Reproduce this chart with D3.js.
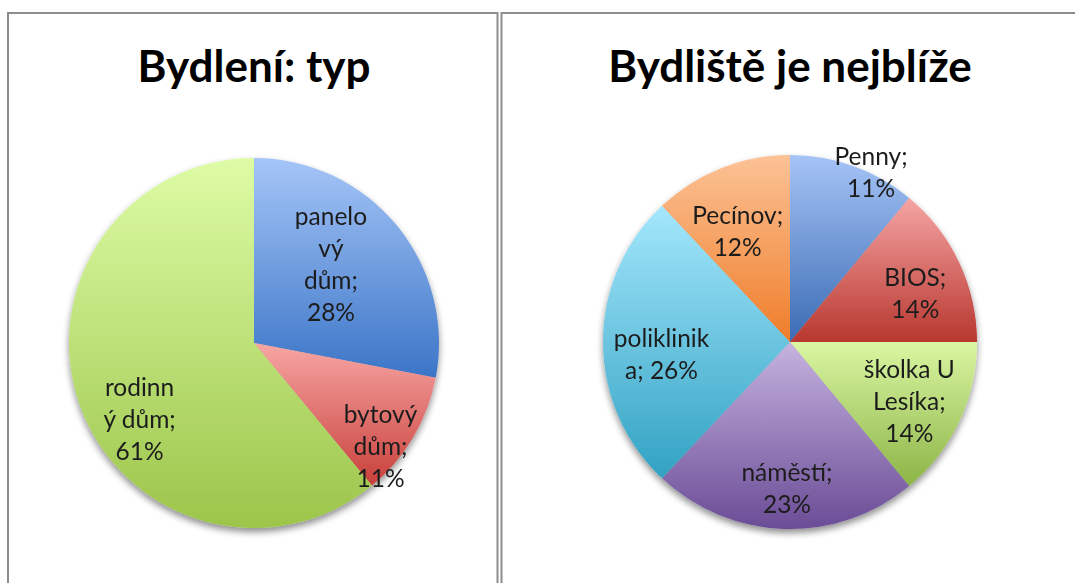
<!DOCTYPE html>
<html>
<head>
<meta charset="utf-8">
<script src="https://cdn.jsdelivr.net/npm/d3@7"></script>
<style>
  html, body { margin: 0; padding: 0; background: #fff; }
  svg { display: block; }
</style>
</head>
<body>
<svg id="chart" width="1075" height="583"></svg>
<script>
// ---- Data ----
const titleLeft = "Bydlení: typ";
const categoriesLeft = ["panelový dům", "bytový dům", "rodinný dům"];
const valuesLeft = [28, 11, 61];
const labelLinesLeft = [["panelo", "vý", "dům;", "28%"], ["bytový", "dům;", "11%"], ["rodinn", "ý dům;", "61%"]];

const titleRight = "Bydliště je nejblíže";
const categoriesRight = ["Penny", "BIOS", "školka U Lesíka", "náměstí", "poliklinika", "Pecínov"];
const valuesRight = [11, 14, 14, 23, 26, 12];
const labelLinesRight = [["Penny;", "11%"], ["BIOS;", "14%"], ["školka U", "Lesíka;", "14%"], ["náměstí;", "23%"], ["poliklinik", "a; 26%"], ["Pecínov;", "12%"]];

// ---- Styles ----
const gradLeft = [["#a5c5f7", "#3b75c7"], ["#f7a6a4", "#c9403b"], ["#defca6", "#9cc54a"]];
const gradRight = [["#a6c4f6", "#3a6bb4"], ["#f5a5a4", "#b8372f"], ["#daf6a2", "#8cb446"], ["#c6b3df", "#6a4c96"], ["#a4e7fc", "#32a2c3"], ["#fcc296", "#ef7d29"]];
// label placement: radius factor and angular nudge (deg)
const labelPlaceLeft = [[0.60, -6.5], [0.88, 8.4], [0.74, -13.5]];
const labelPlaceRight = [[1.01, 5.6], [0.72, 3.7], [0.71, 0.8], [0.78, -0.6], [0.69, -5.1], [0.66, -3.5]];

const svg = d3.select("#chart");
const defs = svg.append("defs");

const shadow = defs.append("filter").attr("id", "shadow")
  .attr("x", "-20%").attr("y", "-20%").attr("width", "140%").attr("height", "140%");
shadow.append("feGaussianBlur").attr("in", "SourceAlpha").attr("stdDeviation", 3.5).attr("result", "b");
shadow.append("feOffset").attr("in", "b").attr("dx", 0).attr("dy", 4).attr("result", "o");
shadow.append("feComponentTransfer").attr("in", "o").attr("result", "s")
  .append("feFuncA").attr("type", "linear").attr("slope", 0.45);
const merge = shadow.append("feMerge");
merge.append("feMergeNode").attr("in", "s");
merge.append("feMergeNode").attr("in", "SourceGraphic");

const textBlur = defs.append("filter").attr("id", "tblur");
textBlur.append("feGaussianBlur").attr("stdDeviation", 0.35);

// Panel borders
const border = "#8d8d8d";
const borders = svg.append("g").attr("fill", "none").attr("stroke", border).attr("stroke-width", 2);
borders.append("path").attr("d", "M8,590 L8,13 L497.5,13 L497.5,590");
borders.append("path").attr("d", "M501.5,590 L501.5,13 L1080,13");

function drawPie(cx, cy, r, title, cats, vals, lines, grads, place, id) {
  const g = svg.append("g").attr("transform", `translate(${cx},${cy})`);
  const pie = d3.pie().sort(null).value(d => d)(vals);
  const arc = d3.arc().innerRadius(0).outerRadius(r);

  grads.forEach((c, i) => {
    const lg = defs.append("linearGradient").attr("id", `${id}g${i}`)
      .attr("x1", 0).attr("y1", 0).attr("x2", 0).attr("y2", 1);
    lg.append("stop").attr("offset", "0%").attr("stop-color", c[0]);
    lg.append("stop").attr("offset", "100%").attr("stop-color", c[1]);
  });

  const slices = g.append("g").attr("filter", "url(#shadow)");
  slices.selectAll("path").data(pie).join("path")
    .attr("d", arc)
    .attr("fill", (d, i) => `url(#${id}g${i})`);

  const lh = 32;
  pie.forEach((d, i) => {
    const mid = (d.startAngle + d.endAngle) / 2 + place[i][1] * Math.PI / 180;
    const rr = r * place[i][0];
    const x = Math.sin(mid) * rr, y = -Math.cos(mid) * rr;
    const ls = lines[i];
    const t = g.append("text")
      .attr("text-anchor", "middle")
      .attr("font-family", "Lato, 'Open Sans', sans-serif")
      .attr("font-size", 24.5)
      .attr("fill", "#1c1c1c")
      .attr("filter", "url(#tblur)");
    ls.forEach((s, j) => {
      t.append("tspan").attr("x", x)
        .attr("y", y + (j - (ls.length - 1) / 2) * lh)
        .attr("dominant-baseline", "central")
        .text(s);
    });
  });

  svg.append("text")
    .attr("x", cx).attr("y", 82)
    .attr("text-anchor", "middle")
    .attr("font-family", "Lato, 'Open Sans', sans-serif")
    .attr("font-weight", "bold")
    .attr("font-size", 44)
    .attr("fill", "#000")
    .text(title);
}

drawPie(254, 343, 185, titleLeft, categoriesLeft, valuesLeft, labelLinesLeft, gradLeft, labelPlaceLeft, "L");
drawPie(790, 342, 187, titleRight, categoriesRight, valuesRight, labelLinesRight, gradRight, labelPlaceRight, "R");
</script>
</body>
</html>
